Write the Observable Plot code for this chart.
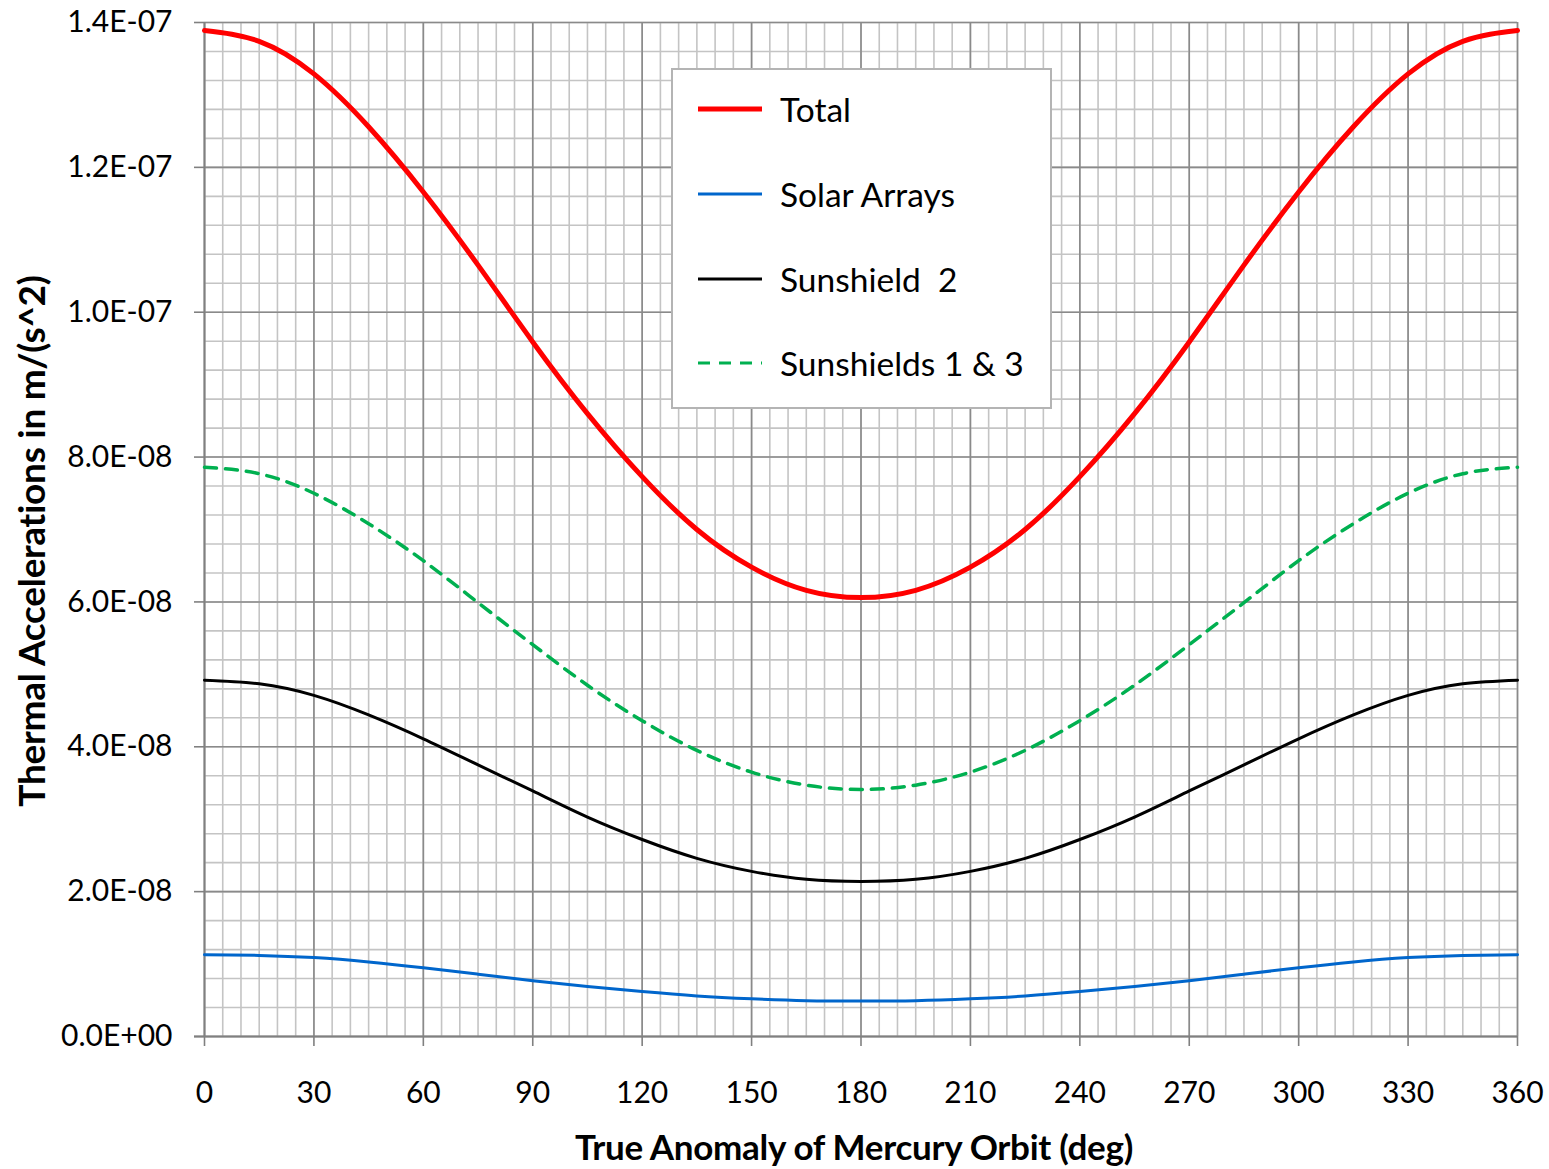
<!DOCTYPE html>
<html><head><meta charset="utf-8">
<script src="https://cdn.jsdelivr.net/npm/d3@7"></script>
<script src="https://cdn.jsdelivr.net/npm/@observablehq/plot@0.6"></script>
<style>
body{margin:0;background:#fff;}
#wrap{position:relative;width:1549px;height:1169px;overflow:hidden;font-family:Lato,"Open Sans",sans-serif;}
#legend{position:absolute;left:671px;top:68px;width:377px;height:337px;background:#fff;border:2px solid #b4b4b4;}
.row{position:absolute;left:0;height:40px;display:flex;align-items:center;}
.row svg{margin-left:25px;}
.row span{margin-left:18px;font-size:33.5px;color:#000;}
#xtitle{position:absolute;left:0;width:1708px;top:1125px;text-align:center;font-weight:bold;font-size:35px;letter-spacing:-0.3px;}
#ytitle{position:absolute;left:30px;top:541px;transform:translate(-50%,-50%) rotate(-90deg);white-space:nowrap;font-weight:bold;font-size:37px;letter-spacing:-0.3px;}
</style></head><body><div id="wrap"></div>
<script>
// True anomaly (deg)
const angles = [0,15,30,45,60,75,90,105,120,135,150,165,180,195,210,225,240,255,270,285,300,315,330,345,360];
// Thermal accelerations m/s^2
const total        = [1.389e-7,1.374e-7,1.329e-7,1.256e-7,1.166e-7,1.065e-7,9.59e-8,8.60e-8,7.73e-8,7.00e-8,6.48e-8,6.16e-8,6.06e-8,6.16e-8,6.48e-8,7.00e-8,7.73e-8,8.60e-8,9.59e-8,1.065e-7,1.166e-7,1.256e-7,1.329e-7,1.374e-7,1.389e-7];
const solarArrays  = [1.13e-8,1.12e-8,1.09e-8,1.03e-8,9.5e-9,8.6e-9,7.7e-9,6.9e-9,6.2e-9,5.6e-9,5.2e-9,4.95e-9,4.9e-9,4.95e-9,5.2e-9,5.6e-9,6.2e-9,6.9e-9,7.7e-9,8.6e-9,9.5e-9,1.03e-8,1.09e-8,1.12e-8,1.13e-8];
const sunshield2   = [4.92e-8,4.87e-8,4.71e-8,4.44e-8,4.11e-8,3.75e-8,3.39e-8,3.03e-8,2.72e-8,2.46e-8,2.28e-8,2.17e-8,2.14e-8,2.17e-8,2.28e-8,2.46e-8,2.72e-8,3.03e-8,3.39e-8,3.75e-8,4.11e-8,4.44e-8,4.71e-8,4.87e-8,4.92e-8];
const sunshields13 = [7.86e-8,7.77e-8,7.50e-8,7.08e-8,6.57e-8,5.99e-8,5.41e-8,4.85e-8,4.36e-8,3.95e-8,3.65e-8,3.47e-8,3.41e-8,3.47e-8,3.65e-8,3.95e-8,4.36e-8,4.85e-8,5.41e-8,5.99e-8,6.57e-8,7.08e-8,7.50e-8,7.77e-8,7.86e-8];
const seriesNames  = ["Total","Solar Arrays","Sunshield  2","Sunshields 1 & 3"];
const seriesColors = ["#ff0000","#0066cc","#000000","#00b050"];
const xTicks = [0,30,60,90,120,150,180,210,240,270,300,330,360];
const yTicks = [0,2e-8,4e-8,6e-8,8e-8,1e-7,1.2e-7,1.4e-7];
const xMinor = d3.range(0,361,5);
const yMinor = d3.range(0,36).map(i => i*4e-9);

const rows = (arr) => angles.map((a,i) => ({x:a, y:arr[i]}));
const fmt = d => {
  const [m,e] = d.toExponential(1).split("e");
  const n = +e;
  return m + "E" + (n < 0 ? "-" : "+") + String(Math.abs(n)).padStart(2,"0");
};
const font = "Lato, 'Open Sans', sans-serif";

const chart = Plot.plot({
  width: 1549, height: 1169,
  marginLeft: 204, marginRight: 32, marginTop: 22, marginBottom: 133,
  style: {fontFamily: font, background: "#fff", overflow: "visible"},
  x: {domain: [0,360]},
  y: {domain: [0,1.4e-7]},
  marks: [
    Plot.ruleX(xMinor, {stroke: "#c4c4c4", strokeWidth: 1.6}),
    Plot.ruleY(yMinor, {stroke: "#c4c4c4", strokeWidth: 1.6}),
    Plot.ruleX(xTicks, {stroke: "#8a8a8a", strokeWidth: 1.6}),
    Plot.ruleY(yTicks, {stroke: "#8a8a8a", strokeWidth: 1.6}),
    Plot.axisX({ticks: xTicks, tickSize: 10, tickPadding: 35, fontSize: 30, stroke: "#808080", strokeWidth: 1.6, label: null}),
    Plot.axisY({ticks: yTicks, tickSize: 10, tickPadding: 22, fontSize: 30, tickFormat: fmt, stroke: "#808080", strokeWidth: 1.6, label: null}),
    Plot.ruleX([0], {stroke: "#808080", strokeWidth: 1.8}),
    Plot.ruleY([0], {x1: -10/3.647, x2: 360, stroke: "#808080", strokeWidth: 1.8}),
    Plot.line(rows(solarArrays), {x: "x", y: "y", stroke: seriesColors[1], strokeWidth: 3, curve: "natural"}),
    Plot.line(rows(sunshield2), {x: "x", y: "y", stroke: seriesColors[2], strokeWidth: 3, curve: "natural"}),
    Plot.line(rows(sunshields13), {x: "x", y: "y", stroke: seriesColors[3], strokeWidth: 3.5, strokeDasharray: "12,9", curve: "natural"}),
    Plot.line(rows(total), {x: "x", y: "y", stroke: seriesColors[0], strokeWidth: 5, curve: "natural"})
  ]
});
const wrap = document.getElementById("wrap");
wrap.appendChild(chart);

// Legend
const legend = document.createElement("div");
legend.id = "legend";
const rowTops = [19, 104, 189, 273];
seriesNames.forEach((name,i) => {
  const r = document.createElement("div");
  r.className = "row";
  r.style.top = rowTops[i] + "px";
  const w = i === 0 ? 5 : 3;
  const dash = i === 3 ? ` stroke-dasharray="12,9"` : "";
  r.innerHTML = `<svg width="64" height="10"><line x1="0" x2="64" y1="5" y2="5" stroke="${seriesColors[i]}" stroke-width="${w}"${dash}/></svg><span>${name.replace(/ /g,"&nbsp;")}</span>`;
  legend.appendChild(r);
});
wrap.appendChild(legend);

const xt = document.createElement("div");
xt.id = "xtitle"; xt.textContent = "True Anomaly of Mercury Orbit (deg)";
wrap.appendChild(xt);
const yt = document.createElement("div");
yt.id = "ytitle"; yt.textContent = "Thermal Accelerations in m/(s^2)";
wrap.appendChild(yt);
</script></body></html>
